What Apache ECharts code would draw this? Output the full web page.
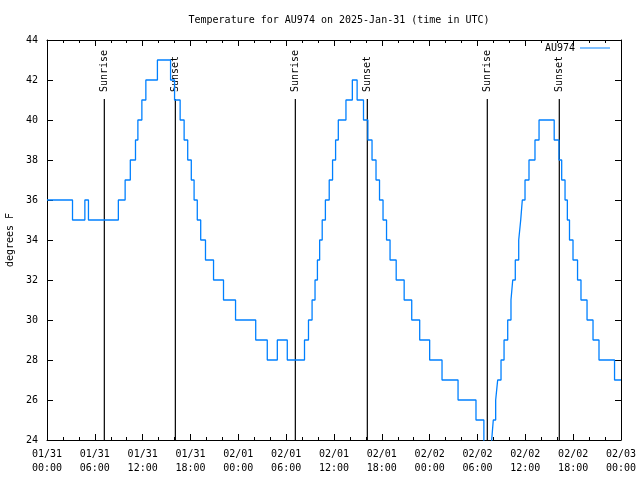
<!DOCTYPE html>
<html>
<head>
<meta charset="utf-8">
<script src="https://cdn.jsdelivr.net/npm/echarts@6/dist/echarts.min.js"></script>
<style>html,body{margin:0;padding:0;background:#fff}#c{width:640px;height:480px}</style>
</head>
<body>
<div id="c"></div>
<script>
// Hours since 2025-01-31 00:00 UTC at which the temperature changed, and the new value (deg F)
const hours = [0, 3.2, 4.75, 5.2, 8.95, 9.8, 10.45, 11.1, 11.4, 11.9, 12.4, 13.85,
  15.5, 16.0, 16.7, 17.2, 17.65, 18.1, 18.45, 18.85, 19.28, 19.88, 20.89, 22.14, 23.65,
  26.18, 27.63, 28.89, 30.14,
  32.3, 32.8, 33.25, 33.62, 33.92, 34.2, 34.52, 34.92, 35.4, 35.82, 36.2, 36.54, 37.5, 38.3,
  38.9, 39.7, 40.25, 40.77, 41.27, 41.71, 42.15, 42.59, 43.03, 43.8, 44.8, 45.75, 46.75,
  48.0, 49.55, 51.56, 53.81, 54.8,
  55.78, 55.98, 56.28, 56.53, 56.95, 57.33, 57.79, 58.2, 58.42, 58.74, 59.17, 59.42, 59.62,
  59.96, 60.46, 61.21, 61.72,
  63.62, 64.22, 64.56, 64.98, 65.27, 65.54, 65.98, 66.55, 66.98, 67.74, 68.49, 69.24, 71.19, 72];
const temps = [36, 35, 36, 35, 36, 37, 38, 39, 40, 41, 42, 43,
  42, 41, 40, 39, 38, 37, 36, 35, 34, 33, 32, 31, 30,
  29, 28, 29, 28,
  29, 30, 31, 32, 33, 34, 35, 36, 37, 38, 39, 40, 41, 42,
  41, 40, 39, 38, 37, 36, 35, 34, 33, 32, 31, 30, 29,
  28, 27, 26, 25, 23,
  24, 25, 26, 27, 28, 29, 30, 31, 32, 33, 34, 35, 36,
  37, 38, 39, 40,
  39, 38, 37, 36, 35, 34, 33, 32, 31, 30, 29, 28, 27, 27];
const xTickLabels = ['01/31\n00:00', '01/31\n06:00', '01/31\n12:00', '01/31\n18:00',
  '02/01\n00:00', '02/01\n06:00', '02/01\n12:00', '02/01\n18:00',
  '02/02\n00:00', '02/02\n06:00', '02/02\n12:00', '02/02\n18:00', '02/03\n00:00'];
const sunEvents = ['Sunrise', 'Sunset', 'Sunrise', 'Sunset', 'Sunrise', 'Sunset'];
const sunHours = [7.19, 16.1, 31.15, 40.18, 55.23, 64.26];
const seriesName = 'AU974';

const FONT = 'DejaVu Sans Mono';
const chart = echarts.init(document.getElementById('c'), null, {renderer: 'canvas'});

const xCommon = {
  type: 'value', min: 0, max: 72, interval: 6,
  axisLine: {show: true, onZero: false, lineStyle: {color: '#000', width: 1}},
  axisTick: {show: true, inside: true, length: 6, lineStyle: {color: '#000'}},
  minorTick: {show: true, splitNumber: 3, length: 3, lineStyle: {color: '#000'}},
  splitLine: {show: false}, minorSplitLine: {show: false}
};
const yCommon = {
  type: 'value', min: 24, max: 44, interval: 2,
  axisLine: {show: true, onZero: false, lineStyle: {color: '#000', width: 1}},
  axisTick: {show: true, inside: true, length: 6, lineStyle: {color: '#000'}},
  splitLine: {show: false}
};

chart.setOption({
  animation: false,
  backgroundColor: '#fff',
  title: {
    text: 'Temperature for AU974 on 2025-Jan-31 (time in UTC)',
    left: 334, top: 10, textAlign: 'center',
    textStyle: {fontFamily: FONT, fontSize: 10, fontWeight: 'normal', color: '#000'}
  },
  legend: {
    data: [{name: seriesName, icon: 'path://M0,0H30V1H0Z'}],
    right: 25, top: 38, align: 'right',
    itemWidth: 30, itemHeight: 1.3,
    textStyle: {fontFamily: FONT, fontSize: 10, color: '#000'}
  },
  grid: {left: 47, right: 19, top: 40, bottom: 40, containLabel: false, outerBoundsMode: 'none'},
  xAxis: [
    Object.assign({}, xCommon, {
      position: 'bottom',
      axisLabel: {
        show: true, margin: 7, lineHeight: 14,
        fontFamily: FONT, fontSize: 10, color: '#000',
        formatter: v => xTickLabels[Math.round(v / 6)]
      }
    }),
    Object.assign({}, xCommon, {position: 'top', axisLabel: {show: false}})
  ],
  yAxis: [
    Object.assign({}, yCommon, {
      position: 'left',
      name: 'degrees F', nameLocation: 'middle', nameGap: 32,
      nameTextStyle: {fontFamily: FONT, fontSize: 10, color: '#000'},
      axisLabel: {show: true, margin: 9, fontFamily: FONT, fontSize: 10, color: '#000'}
    }),
    Object.assign({}, yCommon, {position: 'right', axisLabel: {show: false}})
  ],
  series: [
    {
      name: seriesName, type: 'line', step: 'end',
      xAxisIndex: 0, yAxisIndex: 0,
      data: hours.map((h, i) => [h, temps[i]]),
      symbol: 'none', showSymbol: false, clip: true,
      color: '#0080ff',
      lineStyle: {color: '#0080ff', width: 1.3},
      z: 3
    },
    {
      name: 'sun', type: 'custom',
      xAxisIndex: 0, yAxisIndex: 0,
      data: sunHours.map(h => [h, 24]),
      encode: {x: 0, y: 1},
      z: 2,
      renderItem: function (params, api) {
        const bottom = api.coord([api.value(0), 24]);
        const top = api.coord([api.value(0), 41.05]);
        return {
          type: 'group',
          children: [
            {
              type: 'line',
              shape: {x1: bottom[0], y1: bottom[1], x2: top[0], y2: top[1]},
              style: {stroke: '#000', lineWidth: 1.2}
            },
            {
              type: 'text',
              x: top[0], y: top[1] - 7,
              rotation: Math.PI / 2,
              style: {
                text: sunEvents[params.dataIndex],
                fontFamily: FONT, fontSize: 10, fill: '#000',
                align: 'left', verticalAlign: 'middle'
              }
            }
          ]
        };
      }
    }
  ]
});
</script>
</body>
</html>
